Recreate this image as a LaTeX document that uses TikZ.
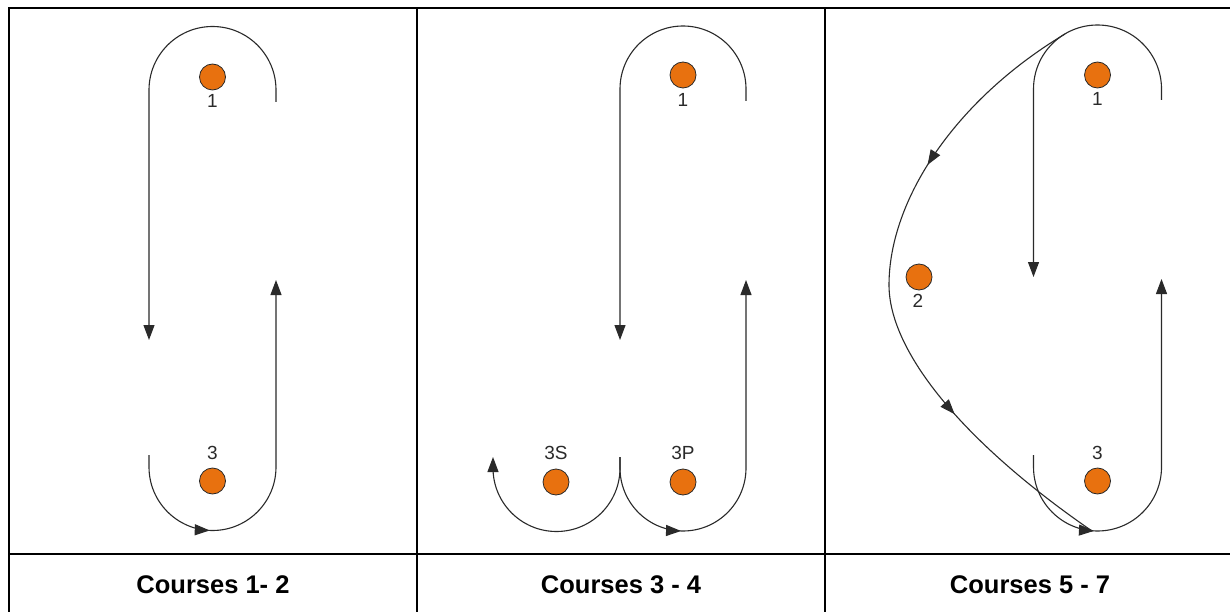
\documentclass[tikz,border=0pt]{standalone}
\usepackage{fontspec}
\setmainfont{Liberation Sans}
\usetikzlibrary{arrows.meta,decorations.markings}
\definecolor{buoy}{HTML}{E8710F}
\definecolor{ink}{HTML}{2A2A2A}
\tikzset{
  tablerule/.style={line width=2pt,black},
  course/.style={line width=1.1pt,ink},
  tipend/.style={-{Triangle[length=15pt,width=11pt]}},
  midarrow/.style={postaction={decorate},decoration={markings,mark=at position #1 with {\arrow{Triangle[length=15pt,width=11pt]}}}},
  buoynode/.style={circle,draw=ink,line width=0.8pt,fill=buoy,minimum size=26pt,inner sep=0pt},
  lbl/.style={font=\fontsize{19pt}{21pt}\selectfont,text=ink,inner sep=0pt},
  captext/.style={font=\fontsize{25.5pt}{28pt}\selectfont\bfseries,inner sep=0pt}
}
\begin{document}
\begin{tikzpicture}[x=1pt,y=-1pt]
\useasboundingbox (0,0) rectangle (1230,612);
% table
\draw[tablerule] (9,612) -- (9,8) -- (1231,8);
\draw[tablerule] (417,8) -- (417,612);
\draw[tablerule] (825,8) -- (825,612);
\draw[tablerule] (9,554) -- (1231,554);
\node[captext] (c1) at (213,585) {Courses 1- 2};
\node[captext] (c2) at (621,585) {Courses 3 - 4};
\node[captext] (c3) at (1030,585) {Courses 5 - 7};

% panel 1
\node[buoynode] (a1) at (212.5,77) {};
\node[lbl] (a1l) at (212.5,101) {1};
\node[buoynode] (a3) at (212.5,481) {};
\node[lbl] (a3l) at (212.5,453) {3};
\draw[course,tipend] (276,102) -- (276,90) arc[start angle=0,end angle=-180,radius=63.5] -- (149,340);
\draw[course,tipend,midarrow=109pt] (149,455) -- (149,467) arc[start angle=180,end angle=0,radius=63.5] -- (276,280);

% panel 2
\node[buoynode] (b1) at (683,75) {};
\node[lbl] (b1l) at (683,100) {1};
\node[buoynode] (b3s) at (556,482) {};
\node[lbl] (b3sl) at (556,453) {3S};
\node[buoynode] (b3p) at (683,482) {};
\node[lbl] (b3pl) at (683,453) {3P};
\draw[course,tipend] (746,101) -- (746,89) arc[start angle=0,end angle=-180,radius=63] -- (620,340);
\draw[course,tipend,midarrow=108pt] (620,457) -- (620,468) arc[start angle=180,end angle=0,radius=63] -- (746,280);
\draw[course,tipend] (620,457) -- (620,468) arc[start angle=0,end angle=180,radius=63.5] -- (493,457);

% panel 3
\node[buoynode] (d1) at (1097.5,75) {};
\node[lbl] (d1l) at (1097.5,99) {1};
\node[buoynode] (d2) at (919,277) {};
\node[lbl] (d2l) at (918,301) {2};
\node[buoynode] (d3) at (1097.5,481) {};
\node[lbl] (d3l) at (1097.5,453) {3};
\draw[course,tipend] (1161.5,100) -- (1161.5,89) arc[start angle=0,end angle=-180,radius=64] -- (1033.5,277);
\draw[course,tipend,midarrow=109pt] (1033.5,455) -- (1033.5,467) arc[start angle=180,end angle=0,radius=64] -- (1161.5,279);
\draw[course,midarrow=0.6] (1065,34) .. controls (955,100) and (889,200) .. (889,285);
\draw[course,midarrow=0.45] (889,285) .. controls (889,350) and (960,440) .. (1092,531);
\end{tikzpicture}
\end{document}
